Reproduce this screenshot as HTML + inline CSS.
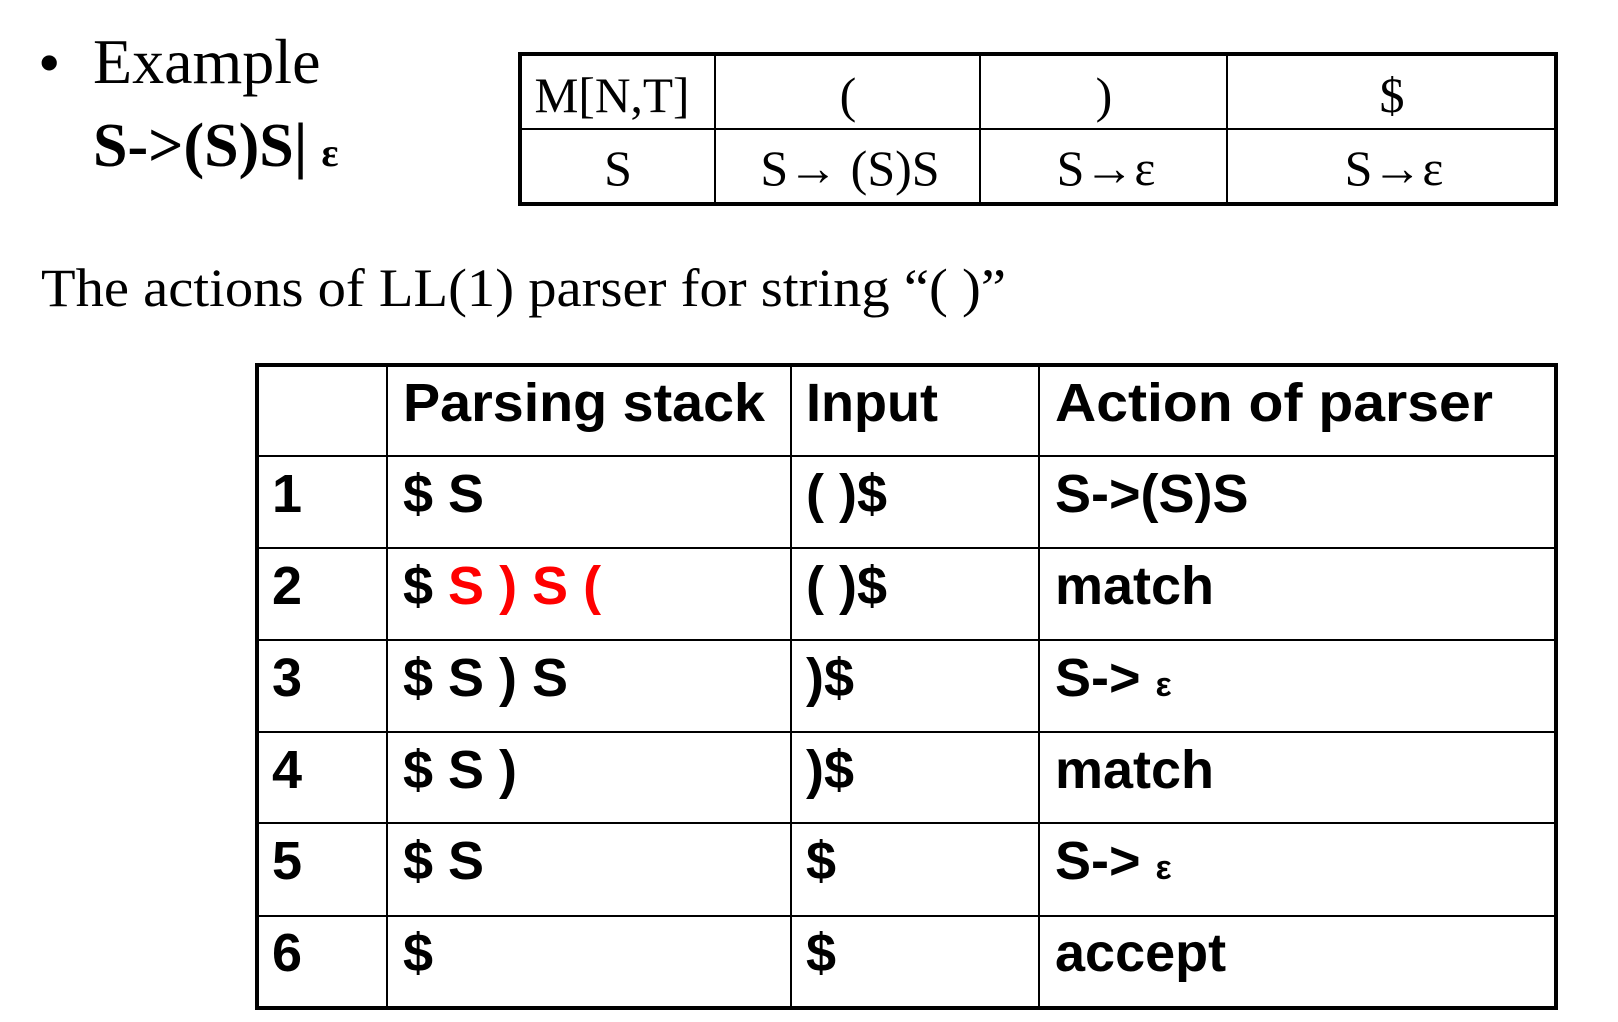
<!DOCTYPE html>
<html><head><meta charset="utf-8"><style>
html,body{margin:0;padding:0;background:#fff;}
svg{display:block}
.t{font-family:"Liberation Serif",serif}
.a{font-family:"Liberation Sans",sans-serif;font-weight:bold;font-size:54px}
</style></head><body>
<svg width="1618" height="1022" viewBox="0 0 1618 1022" xmlns="http://www.w3.org/2000/svg">
<text class="t" x="38" y="84" font-size="64">•</text>
<text class="t" x="93" y="83" font-size="64">Example</text>
<text class="t" x="93" y="166" font-size="62" font-weight="bold">S-&gt;(S)S|<tspan font-size="40" dx="14">ε</tspan></text>

<g stroke="#000" fill="none">
<rect x="520" y="54" width="1036" height="150" stroke-width="4"/>
<line x1="520" y1="129" x2="1556" y2="129" stroke-width="2"/>
<line x1="715" y1="54" x2="715" y2="204" stroke-width="2"/>
<line x1="980" y1="54" x2="980" y2="204" stroke-width="2"/>
<line x1="1227" y1="54" x2="1227" y2="204" stroke-width="2"/>
</g>
<g class="t" font-size="50" text-anchor="middle">
<text x="612" y="112" textLength="155" lengthAdjust="spacingAndGlyphs">M[N,T]</text>
<text x="848" y="112">(</text>
<text x="1104" y="112">)</text>
<text x="1392" y="112">$</text>
<text x="618" y="185">S</text>
<text x="850" y="185">S→ (S)S</text>
<text x="1106" y="185">S→ε</text>
<text x="1394" y="185">S→ε</text>
</g>

<text class="t" x="41" y="306" font-size="54" textLength="965" lengthAdjust="spacingAndGlyphs">The actions of LL(1) parser for string “( )”</text>

<g stroke="#000" fill="none">
<rect x="257" y="365" width="1299" height="643" stroke-width="4"/>
<line x1="257" y1="456" x2="1556" y2="456" stroke-width="2"/>
<line x1="257" y1="548" x2="1556" y2="548" stroke-width="2"/>
<line x1="257" y1="640" x2="1556" y2="640" stroke-width="2"/>
<line x1="257" y1="732" x2="1556" y2="732" stroke-width="2"/>
<line x1="257" y1="823" x2="1556" y2="823" stroke-width="2"/>
<line x1="257" y1="916" x2="1556" y2="916" stroke-width="2"/>
<line x1="387" y1="365" x2="387" y2="1008" stroke-width="2"/>
<line x1="791" y1="365" x2="791" y2="1008" stroke-width="2"/>
<line x1="1039" y1="365" x2="1039" y2="1008" stroke-width="2"/>
</g>
<g class="a">
<text x="403" y="421" textLength="362" lengthAdjust="spacingAndGlyphs">Parsing stack</text>
<text x="806" y="421">Input</text>
<text x="1055" y="421" textLength="438" lengthAdjust="spacingAndGlyphs">Action of parser</text>

<text x="272" y="512">1</text><text x="403" y="512">$ S</text><text x="806" y="512">( )$</text><text x="1055" y="512">S-&gt;(S)S</text>
<text x="272" y="604">2</text><text x="403" y="604">$ <tspan fill="#ff0000">S ) S (</tspan></text><text x="806" y="604">( )$</text><text x="1055" y="604">match</text>
<text x="272" y="696">3</text><text x="403" y="696">$ S ) S</text><text x="806" y="696">)$</text><text x="1055" y="696">S-&gt; <tspan font-size="34">ε</tspan></text>
<text x="272" y="788">4</text><text x="403" y="788">$ S )</text><text x="806" y="788">)$</text><text x="1055" y="788">match</text>
<text x="272" y="879">5</text><text x="403" y="879">$ S</text><text x="806" y="879">$</text><text x="1055" y="879">S-&gt; <tspan font-size="34">ε</tspan></text>
<text x="272" y="971">6</text><text x="403" y="971">$</text><text x="806" y="971">$</text><text x="1055" y="971">accept</text>
</g>
</svg>
</body></html>
